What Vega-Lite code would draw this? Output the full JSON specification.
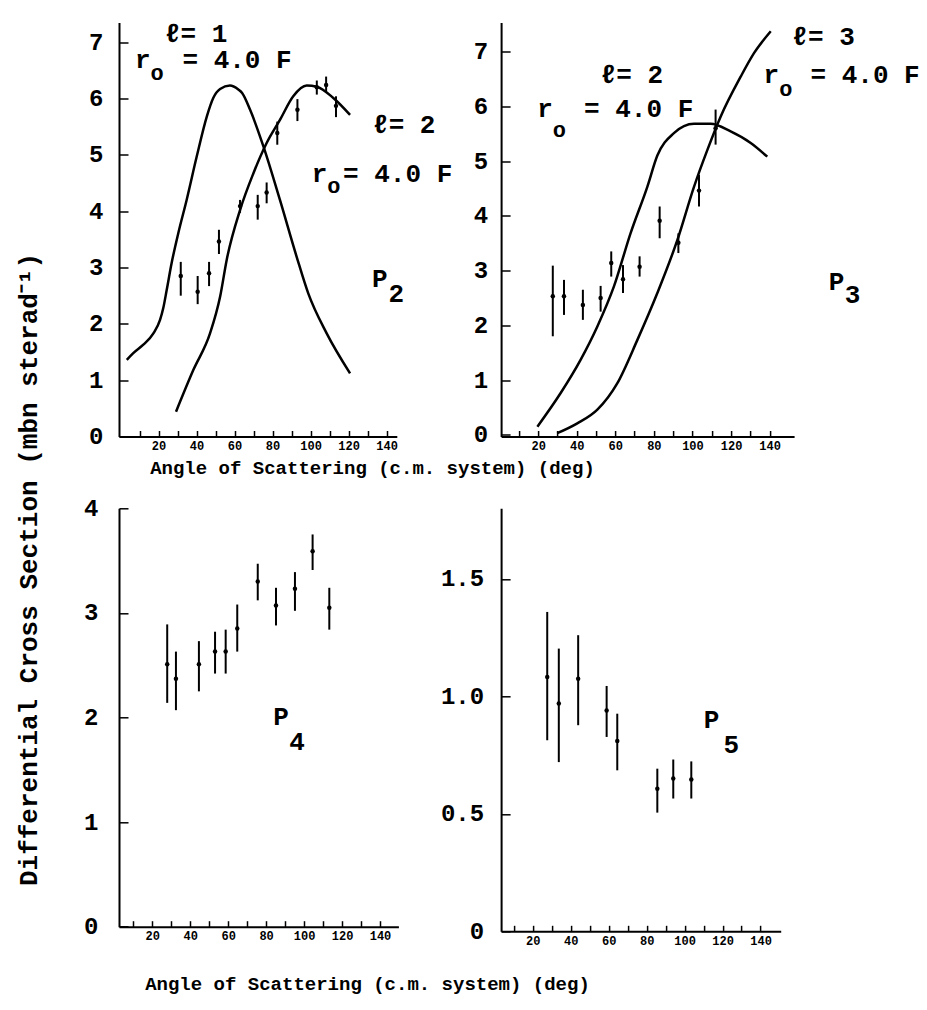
{
  "$schema": "https://vega.github.io/schema/vega-lite/v6.json",
  "autosize": {"type": "none"},
  "padding": {"left": 119, "top": 22.5, "right": 808, "bottom": 987.5},
  "background": "white",
  "config": {
    "view": {"stroke": null},
    "axis": {
      "domainColor": "black", "domainWidth": 2, "tickColor": "black", "tickWidth": 1.5,
      "labelColor": "black", "labelFont": "Liberation Mono", "labelFontWeight": "bold",
      "titleFont": "Liberation Mono", "titleFontWeight": "bold", "titleColor": "black",
      "grid": false, "labelOverlap": false, "labelFlush": false
    }
  },
  "columns": 2,
  "bounds": "flush",
  "align": "each",
  "spacing": {"row": 71.8, "column": 102.1},
  "datasets": {
    "p2pts": [
      {"x": 31.7, "y": 2.85, "lo": 2.50, "hi": 3.10},
      {"x": 40.6, "y": 2.57, "lo": 2.35, "hi": 2.85},
      {"x": 46.6, "y": 2.90, "lo": 2.67, "hi": 3.10},
      {"x": 51.8, "y": 3.46, "lo": 3.24, "hi": 3.67},
      {"x": 62.9, "y": 4.09, "lo": 3.97, "hi": 4.20},
      {"x": 72.2, "y": 4.09, "lo": 3.85, "hi": 4.29},
      {"x": 76.9, "y": 4.33, "lo": 4.14, "hi": 4.51},
      {"x": 82.5, "y": 5.39, "lo": 5.18, "hi": 5.59},
      {"x": 93.1, "y": 5.80, "lo": 5.60, "hi": 5.99},
      {"x": 103.3, "y": 6.20, "lo": 6.07, "hi": 6.32},
      {"x": 108.2, "y": 6.24, "lo": 6.12, "hi": 6.39},
      {"x": 113.4, "y": 5.87, "lo": 5.67, "hi": 6.04}
    ],
    "p2c": [
      {"c": "l1", "x": 3.3, "y": 1.36}, {"c": "l1", "x": 6.7, "y": 1.48}, {"c": "l1", "x": 12.0, "y": 1.63},
      {"c": "l1", "x": 17.3, "y": 1.83}, {"c": "l1", "x": 20.8, "y": 2.07}, {"c": "l1", "x": 22.5, "y": 2.28},
      {"c": "l1", "x": 24.3, "y": 2.60}, {"c": "l1", "x": 26.9, "y": 3.08}, {"c": "l1", "x": 30.4, "y": 3.61},
      {"c": "l1", "x": 34.8, "y": 4.20}, {"c": "l1", "x": 40.1, "y": 4.97}, {"c": "l1", "x": 45.4, "y": 5.68},
      {"c": "l1", "x": 48.8, "y": 6.01}, {"c": "l1", "x": 52.4, "y": 6.17}, {"c": "l1", "x": 57.6, "y": 6.23},
      {"c": "l1", "x": 62.0, "y": 6.16}, {"c": "l1", "x": 64.0, "y": 6.10}, {"c": "l1", "x": 68.2, "y": 5.80},
      {"c": "l1", "x": 75.2, "y": 5.15}, {"c": "l1", "x": 83.9, "y": 4.20}, {"c": "l1", "x": 92.7, "y": 3.19},
      {"c": "l1", "x": 98.8, "y": 2.54}, {"c": "l1", "x": 108.5, "y": 1.83}, {"c": "l1", "x": 120.8, "y": 1.12},
      {"c": "l2", "x": 29.2, "y": 0.44}, {"c": "l2", "x": 38.3, "y": 1.18}, {"c": "l2", "x": 47.1, "y": 1.83},
      {"c": "l2", "x": 52.4, "y": 2.48}, {"c": "l2", "x": 55.9, "y": 3.14}, {"c": "l2", "x": 62.9, "y": 4.02},
      {"c": "l2", "x": 69.9, "y": 4.67}, {"c": "l2", "x": 76.9, "y": 5.21}, {"c": "l2", "x": 83.9, "y": 5.62},
      {"c": "l2", "x": 90.9, "y": 6.04}, {"c": "l2", "x": 98.0, "y": 6.23}, {"c": "l2", "x": 103.3, "y": 6.21},
      {"c": "l2", "x": 112.0, "y": 6.01}, {"c": "l2", "x": 120.8, "y": 5.71}
    ],
    "p2t": [
      {"x": 23.4, "y": 7.01, "t": "ℓ= 1"},
      {"x": 7.6, "y": 6.54, "t": "r"},
      {"x": 32.6, "y": 6.54, "t": "= 4.0 F"},
      {"x": 132.9, "y": 5.39, "t": "ℓ= 2"},
      {"x": 100.6, "y": 4.52, "t": "r"},
      {"x": 117.1, "y": 4.52, "t": "= 4.0 F"},
      {"x": 132.3, "y": 2.66, "t": "P"},
      {"x": 141.0, "y": 2.39, "t": "2"}
    ],
    "p2o": [
      {"x": 15.8, "y": 6.33, "t": "o"},
      {"x": 108.8, "y": 4.32, "t": "o"}
    ],
    "p3pts": [
      {"x": 27.6, "y": 2.53, "lo": 1.80, "hi": 3.09},
      {"x": 33.4, "y": 2.53, "lo": 2.19, "hi": 2.83},
      {"x": 43.2, "y": 2.37, "lo": 2.10, "hi": 2.65},
      {"x": 52.4, "y": 2.50, "lo": 2.25, "hi": 2.72},
      {"x": 57.9, "y": 3.14, "lo": 2.89, "hi": 3.35},
      {"x": 64.0, "y": 2.84, "lo": 2.59, "hi": 3.10},
      {"x": 72.6, "y": 3.07, "lo": 2.89, "hi": 3.26},
      {"x": 83.0, "y": 3.91, "lo": 3.59, "hi": 4.17},
      {"x": 92.7, "y": 3.51, "lo": 3.32, "hi": 3.68},
      {"x": 103.4, "y": 4.46, "lo": 4.17, "hi": 4.75},
      {"x": 112.0, "y": 5.60, "lo": 5.30, "hi": 5.94}
    ],
    "p3c": [
      {"c": "l2", "x": 19.6, "y": 0.15}, {"c": "l2", "x": 31.6, "y": 0.76}, {"c": "l2", "x": 42.0, "y": 1.37},
      {"c": "l2", "x": 50.7, "y": 1.98}, {"c": "l2", "x": 59.3, "y": 2.71}, {"c": "l2", "x": 67.9, "y": 3.68},
      {"c": "l2", "x": 76.6, "y": 4.53}, {"c": "l2", "x": 81.8, "y": 5.10}, {"c": "l2", "x": 90.4, "y": 5.51},
      {"c": "l2", "x": 100.8, "y": 5.68}, {"c": "l2", "x": 109.4, "y": 5.68}, {"c": "l2", "x": 119.8, "y": 5.54},
      {"c": "l2", "x": 130.2, "y": 5.33}, {"c": "l2", "x": 138.8, "y": 5.08},
      {"c": "l3", "x": 29.9, "y": 0.03}, {"c": "l3", "x": 40.3, "y": 0.21}, {"c": "l3", "x": 50.7, "y": 0.46},
      {"c": "l3", "x": 61.0, "y": 0.94}, {"c": "l3", "x": 71.4, "y": 1.73}, {"c": "l3", "x": 81.8, "y": 2.59},
      {"c": "l3", "x": 92.2, "y": 3.56}, {"c": "l3", "x": 100.8, "y": 4.53}, {"c": "l3", "x": 107.7, "y": 5.20},
      {"c": "l3", "x": 114.6, "y": 5.81}, {"c": "l3", "x": 125.0, "y": 6.54}, {"c": "l3", "x": 131.9, "y": 6.97},
      {"c": "l3", "x": 140.6, "y": 7.37}
    ],
    "p3t": [
      {"x": 52.4, "y": 6.43, "t": "ℓ= 2"},
      {"x": 19.6, "y": 5.81, "t": "r"},
      {"x": 43.8, "y": 5.81, "t": "= 4.0 F"},
      {"x": 151.8, "y": 7.12, "t": "ℓ= 3"},
      {"x": 136.9, "y": 6.43, "t": "r"},
      {"x": 161.2, "y": 6.43, "t": "= 4.0 F"},
      {"x": 170.6, "y": 2.65, "t": "P"},
      {"x": 179.0, "y": 2.41, "t": "3"}
    ],
    "p3o": [
      {"x": 27.6, "y": 5.44, "t": "o"},
      {"x": 145.0, "y": 6.19, "t": "o"}
    ],
    "p4pts": [
      {"x": 27.9, "y": 2.51, "lo": 2.14, "hi": 2.89},
      {"x": 32.5, "y": 2.37, "lo": 2.07, "hi": 2.63},
      {"x": 44.6, "y": 2.51, "lo": 2.25, "hi": 2.73},
      {"x": 53.1, "y": 2.63, "lo": 2.42, "hi": 2.82},
      {"x": 58.7, "y": 2.63, "lo": 2.42, "hi": 2.84},
      {"x": 64.8, "y": 2.85, "lo": 2.63, "hi": 3.08},
      {"x": 75.6, "y": 3.30, "lo": 3.12, "hi": 3.47},
      {"x": 85.2, "y": 3.07, "lo": 2.88, "hi": 3.24},
      {"x": 95.2, "y": 3.23, "lo": 3.02, "hi": 3.39},
      {"x": 104.5, "y": 3.59, "lo": 3.41, "hi": 3.75},
      {"x": 113.3, "y": 3.05, "lo": 2.84, "hi": 3.24}
    ],
    "p4t": [
      {"x": 83.8, "y": 1.93, "t": "P"},
      {"x": 92.2, "y": 1.69, "t": "4"}
    ],
    "p5pts": [
      {"x": 27.6, "y": 1.082, "lo": 0.813, "hi": 1.359},
      {"x": 33.7, "y": 0.969, "lo": 0.720, "hi": 1.203},
      {"x": 43.9, "y": 1.075, "lo": 0.877, "hi": 1.260},
      {"x": 58.9, "y": 0.940, "lo": 0.827, "hi": 1.044},
      {"x": 64.5, "y": 0.810, "lo": 0.685, "hi": 0.926},
      {"x": 85.6, "y": 0.607, "lo": 0.505, "hi": 0.692},
      {"x": 94.0, "y": 0.650, "lo": 0.565, "hi": 0.731},
      {"x": 103.5, "y": 0.646, "lo": 0.565, "hi": 0.723}
    ],
    "p5t": [
      {"x": 110.1, "y": 0.864, "t": "P"},
      {"x": 120.5, "y": 0.757, "t": "5"}
    ]
  },
  "concat": [
    {
      "width": 277.8, "height": 414,
      "encoding": {
        "x": {"field": "x", "type": "quantitative", "scale": {"domain": [-0.8, 145.4], "nice": false, "zero": false},
              "axis": {"values": [10, 20, 30, 40, 50, 60, 70, 80, 90, 100, 110, 120, 130, 140], "labelExpr": "datum.value % 20 == 0 ? datum.label : ''",
                       "tickSize": -6, "labelPadding": 10, "labelFontSize": 12,
                       "title": "Angle of Scattering (c.m. system) (deg)", "titleX": 253, "titleY": 30.5, "titleAlign": "center", "titleBaseline": "middle", "titleFontSize": 19}},
        "y": {"field": "y", "type": "quantitative", "scale": {"domain": [0, 7.35], "nice": false, "zero": false},
              "axis": {"values": [0, 1, 2, 3, 4, 5, 6, 7], "tickSize": -9, "labelPadding": 25, "labelFontSize": 24, "title": null}}
      },
      "layer": [
        {"data": {"name": "p2c"}, "mark": {"type": "line", "color": "black", "strokeWidth": 2.5, "interpolate": "monotone"}, "encoding": {"detail": {"field": "c"}}},
        {"data": {"name": "p2pts"}, "mark": {"type": "rule", "color": "black", "strokeWidth": 2},
         "encoding": {"y": {"field": "lo", "type": "quantitative", "scale": {"domain": [0, 7.35], "nice": false, "zero": false},
                            "axis": {"values": [0, 1, 2, 3, 4, 5, 6, 7], "tickSize": -9, "labelPadding": 25, "labelFontSize": 24, "title": null}},
                      "y2": {"field": "hi"}}},
        {"data": {"name": "p2pts"}, "mark": {"type": "circle", "color": "black", "size": 20, "opacity": 1}},
        {"data": {"name": "p2t"}, "mark": {"type": "text", "align": "left", "baseline": "alphabetic", "font": "Liberation Mono", "fontWeight": "bold", "fontSize": 26, "color": "black"}, "encoding": {"text": {"field": "t"}}},
        {"data": {"name": "p2o"}, "mark": {"type": "text", "align": "left", "baseline": "alphabetic", "font": "Liberation Mono", "fontWeight": "bold", "fontSize": 22, "color": "black"}, "encoding": {"text": {"field": "t"}}}
      ]
    },
    {
      "width": 293, "height": 414,
      "encoding": {
        "x": {"field": "x", "type": "quantitative", "scale": {"domain": [0.8, 152.7], "nice": false, "zero": false},
              "axis": {"values": [10, 20, 30, 40, 50, 60, 70, 80, 90, 100, 110, 120, 130, 140], "labelExpr": "datum.value % 20 == 0 ? datum.label : ''",
                       "tickSize": -6, "labelPadding": 10, "labelFontSize": 12, "title": null}},
        "y": {"field": "y", "type": "quantitative", "scale": {"domain": [-0.03, 7.53], "nice": false, "zero": false},
              "axis": {"values": [0, 1, 2, 3, 4, 5, 6, 7], "tickSize": -9, "labelPadding": 22.5, "labelFontSize": 24, "title": null}}
      },
      "layer": [
        {"data": {"name": "p3c"}, "mark": {"type": "line", "color": "black", "strokeWidth": 2.5, "interpolate": "monotone"}, "encoding": {"detail": {"field": "c"}}},
        {"data": {"name": "p3pts"}, "mark": {"type": "rule", "color": "black", "strokeWidth": 2},
         "encoding": {"y": {"field": "lo", "type": "quantitative", "scale": {"domain": [-0.03, 7.53], "nice": false, "zero": false},
                            "axis": {"values": [0, 1, 2, 3, 4, 5, 6, 7], "tickSize": -9, "labelPadding": 22.5, "labelFontSize": 24, "title": null}},
                      "y2": {"field": "hi"}}},
        {"data": {"name": "p3pts"}, "mark": {"type": "circle", "color": "black", "size": 20, "opacity": 1}},
        {"data": {"name": "p3t"}, "mark": {"type": "text", "align": "left", "baseline": "alphabetic", "font": "Liberation Mono", "fontWeight": "bold", "fontSize": 26, "color": "black"}, "encoding": {"text": {"field": "t"}}},
        {"data": {"name": "p3o"}, "mark": {"type": "text", "align": "left", "baseline": "alphabetic", "font": "Liberation Mono", "fontWeight": "bold", "fontSize": 22, "color": "black"}, "encoding": {"text": {"field": "t"}}}
      ]
    },
    {
      "width": 279.4, "height": 418.4,
      "encoding": {
        "x": {"field": "x", "type": "quantitative", "scale": {"domain": [2.5, 149.7], "nice": false, "zero": false},
              "axis": {"values": [10, 20, 30, 40, 50, 60, 70, 80, 90, 100, 110, 120, 130, 140], "labelExpr": "datum.value % 20 == 0 ? datum.label : ''",
                       "tickSize": -6, "labelPadding": 10, "labelFontSize": 12,
                       "title": "Angle of Scattering (c.m. system) (deg)", "titleX": 248, "titleY": 57, "titleAlign": "center", "titleBaseline": "middle", "titleFontSize": 19}},
        "y": {"field": "y", "type": "quantitative", "scale": {"domain": [0, 4], "nice": false, "zero": false},
              "axis": {"values": [0, 1, 2, 3, 4], "tickSize": -9, "labelPadding": 30, "labelFontSize": 24,
                       "title": "Differential Cross Section (mbn sterad⁻¹)", "titleX": -91, "titleY": 60.7, "titleAngle": 270, "titleAlign": "center", "titleBaseline": "middle", "titleFontSize": 26}}
      },
      "layer": [
        {"data": {"name": "p4pts"}, "mark": {"type": "rule", "color": "black", "strokeWidth": 2},
         "encoding": {"y": {"field": "lo", "type": "quantitative", "scale": {"domain": [0, 4], "nice": false, "zero": false},
                            "axis": {"values": [0, 1, 2, 3, 4], "tickSize": -9, "labelPadding": 30, "labelFontSize": 24,
                                     "title": "Differential Cross Section (mbn sterad⁻¹)", "titleX": -91, "titleY": 60.7, "titleAngle": 270, "titleAlign": "center", "titleBaseline": "middle", "titleFontSize": 26}},
                      "y2": {"field": "hi"}}},
        {"data": {"name": "p4pts"}, "mark": {"type": "circle", "color": "black", "size": 20, "opacity": 1}},
        {"data": {"name": "p4t"}, "mark": {"type": "text", "align": "left", "baseline": "alphabetic", "font": "Liberation Mono", "fontWeight": "bold", "fontSize": 26, "color": "black"}, "encoding": {"text": {"field": "t"}}}
      ]
    },
    {
      "width": 279.6, "height": 423,
      "encoding": {
        "x": {"field": "x", "type": "quantitative", "scale": {"domain": [3.3, 150.6], "nice": false, "zero": false},
              "axis": {"values": [10, 20, 30, 40, 50, 60, 70, 80, 90, 100, 110, 120, 130, 140], "labelExpr": "datum.value % 20 == 0 ? datum.label : ''",
                       "tickSize": -6, "labelPadding": 10, "labelFontSize": 12, "title": null}},
        "y": {"field": "y", "type": "quantitative", "scale": {"domain": [0, 1.8], "nice": false, "zero": false},
              "axis": {"values": [0, 0.5, 1, 1.5], "labelExpr": "datum.value == 0 ? '0' : format(datum.value, '.1f')", "tickSize": -9, "labelPadding": 26.5, "labelFontSize": 24, "title": null}}
      },
      "layer": [
        {"data": {"name": "p5pts"}, "mark": {"type": "rule", "color": "black", "strokeWidth": 2},
         "encoding": {"y": {"field": "lo", "type": "quantitative", "scale": {"domain": [0, 1.8], "nice": false, "zero": false},
                            "axis": {"values": [0, 0.5, 1, 1.5], "labelExpr": "datum.value == 0 ? '0' : format(datum.value, '.1f')", "tickSize": -9, "labelPadding": 26.5, "labelFontSize": 24, "title": null}},
                      "y2": {"field": "hi"}}},
        {"data": {"name": "p5pts"}, "mark": {"type": "circle", "color": "black", "size": 20, "opacity": 1}},
        {"data": {"name": "p5t"}, "mark": {"type": "text", "align": "left", "baseline": "alphabetic", "font": "Liberation Mono", "fontWeight": "bold", "fontSize": 26, "color": "black"}, "encoding": {"text": {"field": "t"}}}
      ]
    }
  ]
}
